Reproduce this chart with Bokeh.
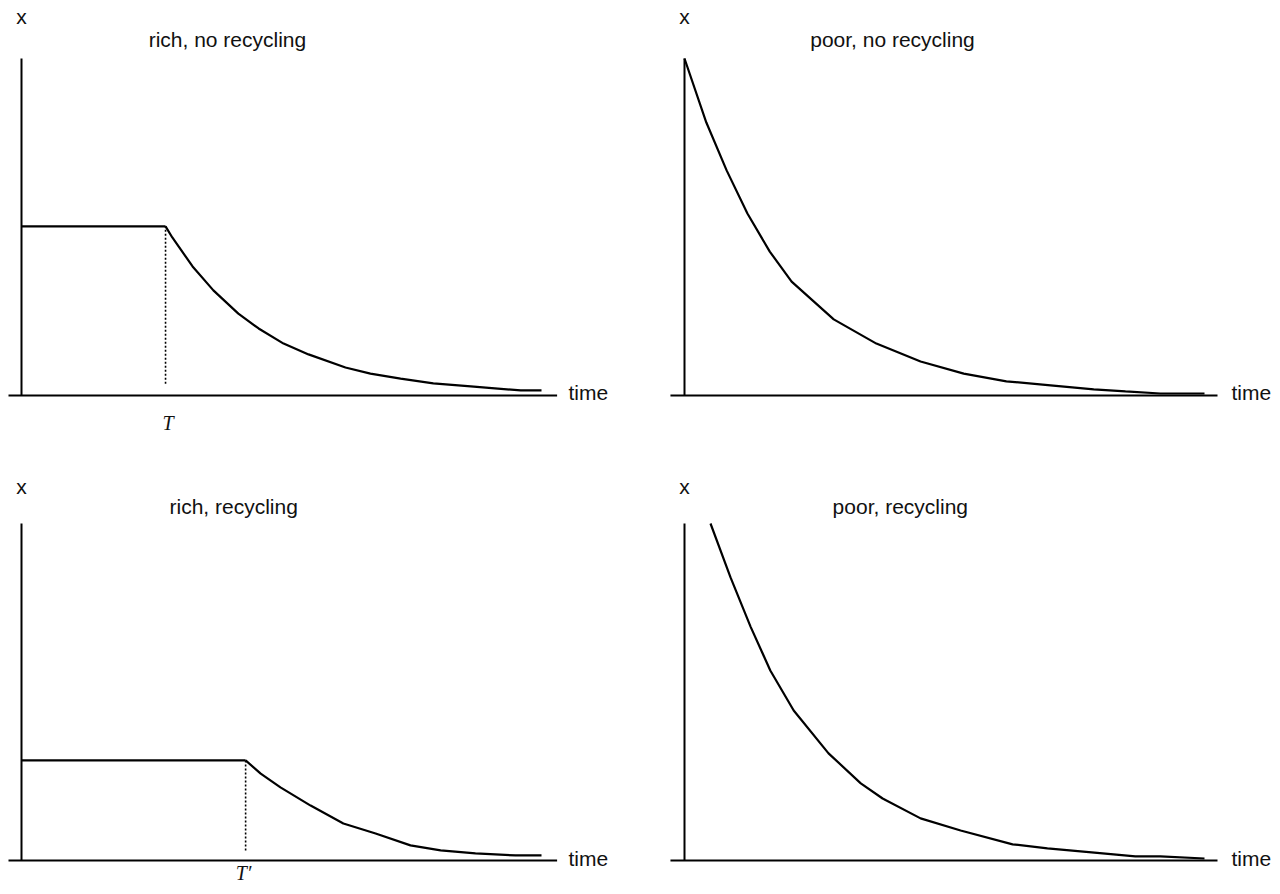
from bokeh.plotting import figure
from bokeh.layouts import gridplot
from bokeh.models import Range1d
from bokeh.core.properties import value
from bokeh.embed import file_html
from bokeh.resources import INLINE

# ---------------- data (time units, x units) ----------------
titles = ["rich, no recycling", "poor, no recycling", "rich, recycling", "poor, recycling"]

# rich, no recycling: constant until T, then decline
T_rich_norec = 2.77
x_rich_norec_flat = 0.502
t_rich_norec = [2.77, 2.90, 3.29, 3.69, 4.17, 4.56, 5.04, 5.52, 6.23, 6.71, 7.29, 7.92, 8.64, 9.60, 10.0]
x_rich_norec = [0.502, 0.469, 0.383, 0.312, 0.243, 0.199, 0.154, 0.122, 0.083, 0.065, 0.050, 0.036, 0.027, 0.015, 0.015]

# poor, no recycling
t_poor_norec = [0.0, 0.42, 0.81, 1.21, 1.64, 2.06, 2.87, 3.69, 4.54, 5.37, 6.19, 7.04, 7.87, 8.48, 9.15, 10.0]
x_poor_norec = [1.0, 0.810, 0.668, 0.540, 0.427, 0.338, 0.226, 0.154, 0.101, 0.065, 0.042, 0.030, 0.018, 0.012, 0.006, 0.006]

# rich, recycling: constant until T', then decline
T_rich_rec = 4.31
x_rich_rec_flat = 0.297
t_rich_rec = [4.31, 4.60, 4.98, 5.56, 6.19, 6.81, 7.48, 8.06, 8.73, 9.50, 10.0]
x_rich_rec = [0.297, 0.258, 0.217, 0.163, 0.110, 0.080, 0.045, 0.030, 0.021, 0.015, 0.015]

# poor, recycling
t_poor_rec = [0.5, 0.885, 1.27, 1.65, 2.10, 2.77, 3.39, 3.81, 4.54, 5.31, 6.31, 6.98, 7.83, 8.67, 9.15, 10.0]
x_poor_rec = [1.0, 0.840, 0.694, 0.564, 0.445, 0.318, 0.229, 0.184, 0.125, 0.089, 0.048, 0.036, 0.024, 0.012, 0.012, 0.006]

axis_label_y = "x"
axis_label_t = "time"
t_labels = ["T", "T\u2032"]

# ---------------- styling ----------------
W = 640
H_TOP, H_BOT = 473, 421
PX_T = 52.0    # pixels per time unit
PX_X = 337.0   # pixels per x unit
SANS = "Liberation Sans"
SERIF = "Liberation Serif"


def make_fig(height, left_px, bottom_px):
    p = figure(width=W, height=height, output_backend="svg", toolbar_location=None,
               x_axis_type=None, y_axis_type=None,
               x_range=Range1d(-left_px / PX_T, (W - left_px) / PX_T),
               y_range=Range1d(-bottom_px / PX_X, (height - bottom_px) / PX_X),
               min_border=0, min_border_left=0, min_border_right=0,
               min_border_top=0, min_border_bottom=0)
    p.outline_line_color = None
    p.background_fill_color = "white"
    p.border_fill_color = "white"
    return p


def draw_axes(p, t_start, t_end, title, title_t, x_label_y, title_y, time_y):
    # axes drawn as plain lines
    p.segment(x0=[0], y0=[0], x1=[0], y1=[1.0], line_color="black", line_width=2)
    p.segment(x0=[t_start], y0=[0], x1=[t_end], y1=[0], line_color="black", line_width=2)
    p.text(x=[0], y=[x_label_y], text=[axis_label_y], text_font=value(SANS),
           text_font_size="21px", text_align="center", text_baseline="alphabetic",
           text_color="#111111")
    p.text(x=[title_t], y=[title_y], text=[title], text_font=value(SANS),
           text_font_size="21px", text_align="center", text_baseline="alphabetic",
           text_color="#111111")
    p.text(x=[10.52], y=[time_y], text=[axis_label_t], text_font=value(SANS),
           text_font_size="21px", text_align="left", text_baseline="alphabetic",
           text_color="#111111")


# top-left
p1 = make_fig(H_TOP, 21, H_TOP - 395)
draw_axes(p1, -0.25, 10.3, titles[0], 3.96, 1.125, 1.057, 0.009)
p1.line(x=[0, T_rich_norec], y=[x_rich_norec_flat, x_rich_norec_flat], line_color="black", line_width=2.2)
p1.line(x=t_rich_norec, y=x_rich_norec, line_color="black", line_width=2.2)
p1.segment(x0=[T_rich_norec], y0=[0.035], x1=[T_rich_norec], y1=[x_rich_norec_flat],
           line_color="black", line_width=1.6, line_dash="2 2")
p1.text(x=[T_rich_norec + 0.05], y=[-0.083], text=[t_labels[0]], text_font=value(SERIF),
        text_font_style="italic", text_font_size="20px", text_align="center",
        text_baseline="alphabetic", text_color="#111111")

# top-right
p2 = make_fig(H_TOP, 44, H_TOP - 395)
draw_axes(p2, -0.27, 10.25, titles[1], 4.0, 1.125, 1.057, 0.009)
p2.line(x=t_poor_norec, y=x_poor_norec, line_color="black", line_width=2.2)

# bottom-left
p3 = make_fig(H_BOT, 21, H_BOT - 387)
draw_axes(p3, -0.25, 10.3, titles[2], 4.08, 1.110, 1.051, 0.006)
p3.line(x=[0, T_rich_rec], y=[x_rich_rec_flat, x_rich_rec_flat], line_color="black", line_width=2.2)
p3.line(x=t_rich_rec, y=x_rich_rec, line_color="black", line_width=2.2)
p3.segment(x0=[T_rich_rec], y0=[0.03], x1=[T_rich_rec], y1=[x_rich_rec_flat],
           line_color="black", line_width=1.6, line_dash="2 2")
p3.text(x=[T_rich_rec - 0.04], y=[-0.038], text=[t_labels[1]], text_font=value(SERIF),
        text_font_style="italic", text_font_size="20px", text_align="center",
        text_baseline="alphabetic", text_color="#111111")

# bottom-right
p4 = make_fig(H_BOT, 44, H_BOT - 387)
draw_axes(p4, -0.27, 10.25, titles[3], 4.15, 1.110, 1.051, 0.006)
p4.line(x=t_poor_rec, y=x_poor_rec, line_color="black", line_width=2.2)

grid = gridplot([[p1, p2], [p3, p4]], toolbar_location=None)

open("out.html", "w").write(file_html(grid, INLINE))
